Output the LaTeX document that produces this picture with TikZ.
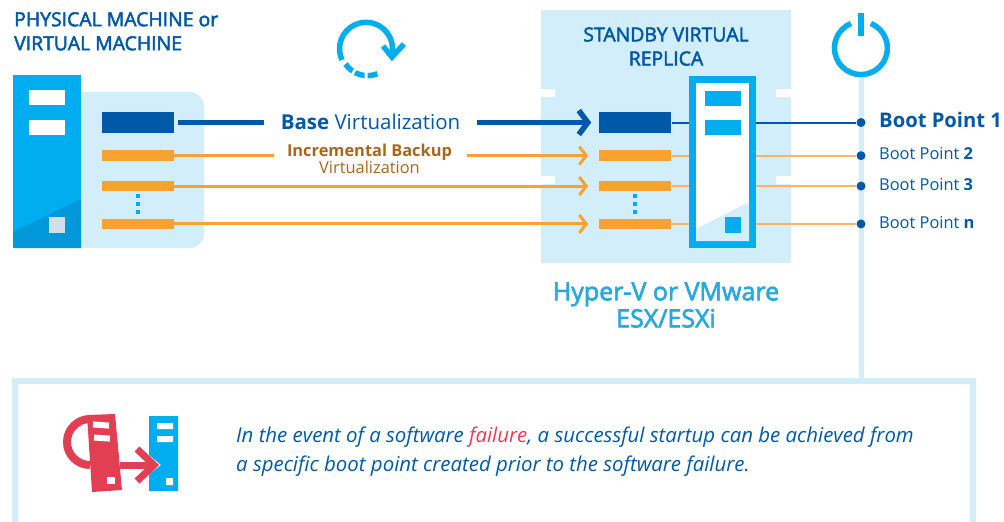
\documentclass[tikz,border=0pt]{standalone}
\usepackage{fontspec}
\setmainfont{Open Sans}
\newfontfamily\semifont[FakeBold=2.5]{Open Sans}
\usetikzlibrary{positioning,arrows.meta}
\definecolor{panel}{HTML}{D3EEFB}
\definecolor{cyan}{HTML}{00AEEF}
\definecolor{deepcyan}{HTML}{0098D8}
\definecolor{navy}{HTML}{0059A8}
\definecolor{amber}{HTML}{FBA130}
\definecolor{paleamber}{HTML}{FBB45F}
\definecolor{brown}{HTML}{A9671E}
\definecolor{sky}{HTML}{29A7E1}
\definecolor{alert}{HTML}{E23F52}
\definecolor{greybox}{HTML}{CFDFEE}
\tikzset{
	basebar/.style={rectangle,fill=navy,inner sep=0pt,minimum width=72pt,minimum height=21pt},
	incbar/.style={rectangle,fill=amber,inner sep=0pt,minimum width=72pt,minimum height=10.5pt},
	slot/.style={rectangle,inner sep=0pt,minimum width=36pt,minimum height=15pt},
	bootdot/.style={circle,fill=navy,inner sep=0pt,minimum size=9pt},
	bootlabel/.style={text=navy,inner sep=0pt,font=\fontsize{16.4}{18}\selectfont},
	title/.style={text=navy,inner sep=0pt,font=\fontsize{19.4}{24}\selectfont\semifont},
	baseline/.style={navy,line width=5.5pt},
	incline/.style={amber,line width=3pt},
	basearrow/.style={baseline,-{Straight Barb[length=9pt,width=24pt,line width=5.5pt]}},
	incarrow/.style={incline,-{Straight Barb[length=7pt,width=18pt,line width=3pt]}},
	dotcol/.style={cyan,line width=4pt,dash pattern=on 4pt off 4pt},
}
\begin{document}
\begin{tikzpicture}[x=1pt,y=-1pt]
	\useasboundingbox (0,0) rectangle (1004,522);
	% left machine
	\path[fill=panel,rounded corners=14pt] (60,92) -- (204,92) -- (204,248) -- (60,248) -- cycle;
	\fill[cyan] (13,75) rectangle (81,248);
	\fill[deepcyan] (13,232) -- (81,199) -- (81,248) -- (13,248) -- cycle;
	\node[slot,fill=white] (srcslot1) at (47,97) {};
	\node[slot,fill=white] (srcslot2) at (47,127) {};
	\node[rectangle,fill=greybox,inner sep=0pt,minimum size=16pt] (srclamp) at (57,225) {};
	\node[title,align=left,anchor=north west] (srctitle) at (14,12) {PHYSICAL MACHINE or\\VIRTUAL MACHINE};
	% replica panel
	\fill[panel] (541,10) rectangle (791,263);
	\fill[white] (541,89) rectangle (555,97) (541,176) rectangle (555,184);
	\fill[white] (776,89) rectangle (791,97) (776,176) rectangle (791,184);
	\node[title,align=center] (dsttitle) at (666,46.5) {STANDBY VIRTUAL\\REPLICA};
	\node[text=sky,align=center,inner sep=0pt,font=\fontsize{25}{27}\selectfont\semifont] (dstname) at (666,305) {Hyper-V or VMware\\ESX/ESXi};
	% bars
	\node[basebar] (srcbase) at (138,122.5) {};
	\node[incbar] (srcinc1) [below=17pt of srcbase] {};
	\node[incbar] (srcinc2) [below=19.5pt of srcinc1] {};
	\node[incbar] (srcinc3) [below=27pt of srcinc2] {};
	\node[basebar] (dstbase) [right=425pt of srcbase] {};
	\node[incbar] (dstinc1) [right=425pt of srcinc1] {};
	\node[incbar] (dstinc2) [right=425pt of srcinc2] {};
	\node[incbar] (dstinc3) [right=425pt of srcinc3] {};
	\draw[dotcol] (138,194) -- (138,215);
	\draw[dotcol] (634.5,194) -- (634.5,215);
	% boot line
	\coordinate (powerfoot) at (861,75);
	\coordinate (boxtop) at (861,381);
	\draw[panel,line width=5pt] (powerfoot) -- (boxtop);
	\node[bootdot] (bp1) at (dstbase -| powerfoot) {};
	\node[bootdot] (bp2) at (dstinc1 -| powerfoot) {};
	\node[bootdot] (bp3) at (dstinc2 -| powerfoot) {};
	\node[bootdot] (bp4) at (dstinc3 -| powerfoot) {};
	\node[bootlabel,font=\fontsize{20.2}{24}\selectfont\bfseries,anchor=west] (bl1) at (879,120) {Boot Point 1};
	\node[bootlabel,anchor=west] (bl2) at (879,154) {Boot Point \textbf{2}};
	\node[bootlabel,anchor=west] (bl3) at (879,185) {Boot Point \textbf{3}};
	\node[bootlabel,anchor=west] (bl4) at (879,223) {Boot Point \textbf{n}};
	\path
	(dstbase) edge [navy,line width=2pt] (bp1)
	(dstinc1) edge [paleamber,line width=2pt] (bp2)
	(dstinc2) edge [paleamber,line width=2pt] (bp3)
	(dstinc3) edge [paleamber,line width=2pt] (bp4);
	% replica server
	\node[rectangle,draw=cyan,fill=white,line width=7pt,inner sep=0pt,minimum width=60pt,minimum height=165pt] (srv) at (722.5,162) {};
	\fill[panel] (696,229) -- (749,202) -- (749,241) -- (696,241) -- cycle;
	\node[slot,fill=cyan] (srvslot1) at (722.5,98) {};
	\node[slot,fill=cyan] (srvslot2) at (722.5,127) {};
	\node[rectangle,fill=cyan,inner sep=0pt,minimum size=16pt] (srvlamp) at (733,225) {};
	% virtualization labels
	\node[text=navy,inner sep=0pt,font=\fontsize{20.5}{24}\selectfont] (baselbl) at (370.5,122) {\textbf{Base} Virtualization};
	\node[align=center,inner sep=0pt,text=brown,font=\fontsize{16.4}{17}\selectfont] (inclbl) at (369.5,158.5) {\textbf{Incremental Backup}\\Virtualization};
	\coordinate (baseleft) at (264,0 |- srcbase);
	\coordinate (baseright) at (477,0 |- srcbase);
	\coordinate (incleft) at (274,0 |- srcinc1);
	\coordinate (incright) at (467,0 |- srcinc1);
	\draw[baseline,shorten <=4pt] (srcbase) -- (baseleft);
	\draw[basearrow,shorten >=8pt] (baseright) -- (dstbase);
	\draw[incline] (srcinc1) -- (incleft);
	\draw[incarrow,shorten >=11pt] (incright) -- (dstinc1);
	\draw[incarrow,shorten >=11pt] (srcinc2) -- (dstinc2);
	\draw[incarrow,shorten >=11pt] (srcinc3) -- (dstinc3);
	% refresh and power icons
	\draw[cyan,line width=5.5pt] (342,60) arc[start angle=205,end angle=-8,radius=26.5pt];
	\draw[cyan,line width=5.5pt,dash pattern=on 10pt off 3pt] (345.5,64) arc[start angle=214,end angle=292,radius=26.5pt];
	\draw[cyan,line width=5.5pt] (383,46) -- (392,57) -- (404,44);
	\draw[cyan,line width=5.5pt] (851,23.5) arc[start angle=112,end angle=428,radius=26.5pt];
	\draw[cyan,line width=6pt] (861,13) -- (861,36);
	% note box
	\draw[panel,line width=6pt] (15,522) -- (15,381) -- (973,381) -- (973,522);
	\node[text=navy,align=left,anchor=west,inner sep=0pt,font=\fontsize{20.4}{29}\selectfont\itshape] (note) at (236,451.5) {In the event of a software \textcolor{alert}{failure}, a successful startup can be achieved from\\a specific boot point created prior to the software failure.};
	% failover icon
	\draw[alert,line width=8pt] (90,419) arc[start angle=90,end angle=270,radius=23pt];
	\fill[alert] (87,415) -- (115,414) -- (122,490) -- (92,492) -- cycle;
	\fill[cyan] (149,416) -- (178,416) -- (178,491) -- (149,491) -- (149,474) -- (161,465) -- (149,455) -- cycle;
	\draw[alert,line width=7pt] (120,465) -- (152,465);
	\draw[alert,line width=7pt] (137,449) -- (154,465) -- (137,481);
	\fill[white,rotate around={-4:(101,425)}] (93,422) rectangle (109,428);
	\fill[white,rotate around={-4:(101,438)}] (94,435) rectangle (110,441);
	\fill[white] (107,477) rectangle (115,484);
	\fill[white] (157,423) rectangle (173,429) (157,436) rectangle (173,442) (166,478) rectangle (173,485);
\end{tikzpicture}
\end{document}
